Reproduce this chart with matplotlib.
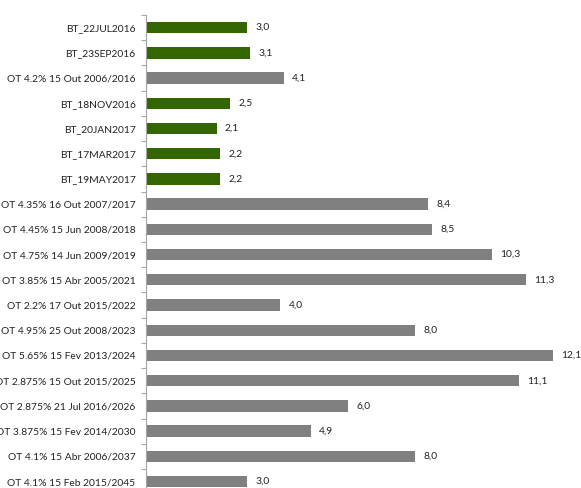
import matplotlib
matplotlib.use("Agg")
import matplotlib.pyplot as plt
import numpy as np

categories = [
    "BT_22JUL2016", "BT_23SEP2016", "OT 4.2% 15 Out 2006/2016", "BT_18NOV2016",
    "BT_20JAN2017", "BT_17MAR2017", "BT_19MAY2017", "OT 4.35% 16 Out 2007/2017",
    "OT 4.45% 15 Jun 2008/2018", "OT 4.75% 14 Jun 2009/2019", "OT 3.85% 15 Abr 2005/2021",
    "OT 2.2% 17 Out 2015/2022", "OT 4.95% 25 Out 2008/2023", "OT 5.65% 15 Fev 2013/2024",
    "OT 2.875% 15 Out 2015/2025", "OT 2.875% 21 Jul 2016/2026", "OT 3.875% 15 Fev 2014/2030",
    "OT 4.1% 15 Abr 2006/2037", "OT 4.1% 15 Feb 2015/2045",
]
values = [3.0, 3.1, 4.1, 2.5, 2.1, 2.2, 2.2, 8.4, 8.5, 10.3, 11.3, 4.0, 8.0, 12.1, 11.1, 6.0, 4.9, 8.0, 3.0]
kinds = ["BT", "BT", "OT", "BT", "BT", "BT", "BT"] + ["OT"] * 12

colors = {"BT": "#336600", "OT": "#808080"}

plt.rcParams['font.family'] = ['Lato', 'DejaVu Sans']
fs = 7.4

W, H = 581, 488
fig = plt.figure(figsize=(W / 100, H / 100), dpi=100)
ax_left = 146 / W
top_px = 15
row = 25.22
n = len(categories)
bottom_px = top_px + n * row
xmax = 13.0
ppu = 33.6
ax = fig.add_axes([ax_left, 1 - bottom_px / H, xmax * ppu / W, (bottom_px - top_px) / H])

y = np.arange(n)
ax.barh(y, values, height=0.45, color=[colors[k] for k in kinds], zorder=2)
ax.set_ylim(n - 0.5, -0.5)
ax.set_xlim(0, xmax)

for yi, v in zip(y, values):
    ax.text(v + 0.25, yi, f"{v:.1f}".replace(".", ","), va="center", ha="left",
            fontsize=fs, color="#222222")

ax.set_yticks(y)
ax.set_yticklabels(categories, fontsize=fs, color="#222222")
ax.tick_params(axis="y", which="major", length=0, pad=7.5)
ax.set_yticks(np.arange(-0.5, n, 1), minor=True)
ax.tick_params(axis="y", which="minor", length=3.5, color="#A6A6A6", width=0.8)
ax.set_xticks([])
for s in ["top", "right", "bottom"]:
    ax.spines[s].set_visible(False)
ax.spines["left"].set_color("#A6A6A6")
ax.spines["left"].set_linewidth(0.8)

fig.savefig("out.png", dpi=100)
